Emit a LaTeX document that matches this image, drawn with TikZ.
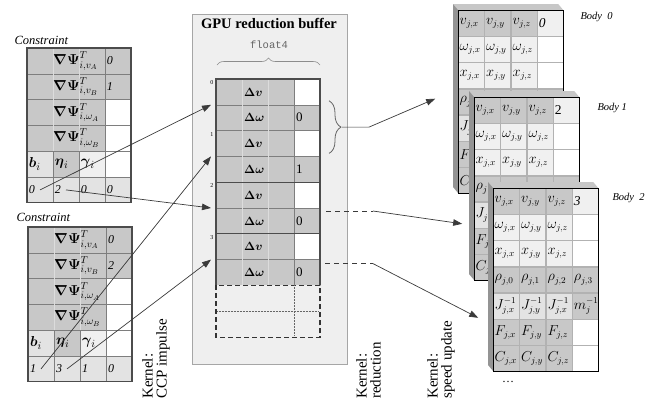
\documentclass[tikz,border=0pt]{standalone}
\usepackage{amsmath}
\usepackage{fontspec}
\setmainfont{Liberation Serif}
\setmonofont{Liberation Mono}
\usepackage{tikz}
\usetikzlibrary{matrix, arrows.meta, calc, decorations.pathreplacing}

\definecolor{cellgray}{HTML}{C8C8C8}
\definecolor{celllight}{HTML}{E3E3E3}
\definecolor{cellpale}{HTML}{F0F0F0}
\definecolor{rulegray}{HTML}{7E7E7E}
\definecolor{seamgray}{HTML}{DCDCDC}
\definecolor{arrowgray}{HTML}{3A3A3A}
\definecolor{panelgray}{HTML}{EFEFEF}

\begin{document}
\begin{tikzpicture}[x=1pt, y=-1pt,
  tab/.style={matrix of nodes, nodes in empty cells, anchor=north west,
    inner sep=0pt, outer sep=0pt, column sep=0pt, row sep=0pt,
    nodes={anchor=center, draw=none, fill=white, inner xsep=2pt, inner ysep=0pt,
      outer sep=0pt, text width=22pt, minimum height=25.8pt, align=left,
      font=\fontsize{12}{12}\selectfont}},
  card/.style={tab, nodes={draw=rulegray!60, inner xsep=1.5pt, text width=23pt,
      font=\fontsize{13.5}{14}\selectfont}},
  cg/.style={fill=cellgray}, cl/.style={fill=celllight}, cp/.style={fill=cellpale},
  cbig/.style={font=\fontsize{15}{15}\selectfont},
  tabframe/.style={line width=1.2pt, black!70},
  seam/.style={seamgray, line width=0.6pt},
  arr/.style={arrowgray, line width=0.7pt, -{Triangle[length=9pt,width=6.5pt]}},
  dline/.style={arrowgray, line width=1pt, dash pattern=on 5pt off 4pt},
  kernel/.style={rotate=90, anchor=north west, align=left, inner sep=0pt,
    font=\fontsize{15}{14}\selectfont},
  grad/.style={anchor=west, inner sep=0pt, font=\fontsize{14.5}{14}\selectfont},
  bodylabel/.style={anchor=west, font=\itshape\fontsize{10.5}{12}\selectfont}]
\useasboundingbox (0,0) rectangle (661,400);

% GPU reduction buffer panel
\node[draw=black!35, fill=panelgray, line width=0.8pt, inner sep=0pt, anchor=north west,
  minimum width=155pt, minimum height=350pt] (bufpanel) at (192,14) {};
\node[font=\bfseries\fontsize{14.5}{15}\selectfont] (buftitle) at (269,23) {GPU reduction buffer};
\node[font=\ttfamily\fontsize{10.5}{11}\selectfont, text=black!60] (buftype) at (269,45) {float4};

% constraints
\node[anchor=west, font=\itshape\fontsize{12.5}{13}\selectfont] (con1) at (11,40) {Constraint};
\matrix (c1) [tab] at (27,48) {
|[cg]| & |[cg]| & |[cg]| & |[cg]| \textit{0} \\
|[cg]| & |[cg]| & |[cg]| & |[cg]| \textit{1} \\
|[cg]| & |[cg]| & |[cg]| & \\
|[cg]| & |[cg]| & |[cg]| & \\
|[cl,cbig]| $\boldsymbol{b}_i$ & |[cg,cbig]| $\boldsymbol{\eta}_i$ & |[cp,cbig]| $\boldsymbol{\gamma}_i$ & \\
|[cl]| \textit{0} & |[cl]| \textit{2} & |[cl]| \textit{0} & |[cl]| \textit{0} \\
};

\node[anchor=west, font=\itshape\fontsize{12.5}{13}\selectfont] (con2) at (13,217) {Constraint};
\matrix (c2) [tab] at (28,227) {
|[cg]| & |[cg]| & |[cg]| & |[cg]| \textit{0} \\
|[cg]| & |[cg]| & |[cg]| & |[cg]| \textit{2} \\
|[cg]| & |[cg]| & |[cg]| & \\
|[cg]| & |[cg]| & |[cg]| & \\
|[cl,cbig]| $\boldsymbol{b}_i$ & |[cg,cbig]| $\boldsymbol{\eta}_i$ & |[cp,cbig]| $\boldsymbol{\gamma}_i$ & \\
|[cl]| \textit{1} & |[cl]| \textit{3} & |[cl]| \textit{1} & |[cl]| \textit{0} \\
};

\foreach \t in {c1,c2} {
  \foreach \r in {1,...,5}
    \draw[rulegray] (\t-\r-1.south west) -- (\t-\r-4.south east);
  \draw[seam] (\t-1-2.north west) -- (\t-4-2.south west) (\t-1-3.north west) -- (\t-4-3.south west);
  \draw[rulegray] (\t-5-2.north west) -- (\t-6-2.south west) (\t-5-3.north west) -- (\t-6-3.south west)
    (\t-1-4.north west) -- (\t-6-4.south west);
  \draw[tabframe] (\t-1-1.north west) rectangle (\t-6-4.south east);
  \node[grad] (\t-g1) at (\t-1-2.west) {$\boldsymbol{\nabla\Psi}^{T}_{i,v_A}$};
  \node[grad] (\t-g2) at (\t-2-2.west) {$\boldsymbol{\nabla\Psi}^{T}_{i,v_B}$};
  \node[grad] (\t-g3) at (\t-3-2.west) {$\boldsymbol{\nabla\Psi}^{T}_{i,\omega_A}$};
  \node[grad] (\t-g4) at (\t-4-2.west) {$\boldsymbol{\nabla\Psi}^{T}_{i,\omega_B}$};
}

% buffer
\matrix (buf) [tab, nodes={font=\fontsize{13}{13}\selectfont}] at (216,79) {
|[cg]| & |[cg]| $\boldsymbol{\Delta v}$ & |[cg]| & \\
|[cg]| & |[cg]| $\boldsymbol{\Delta\omega}$ & |[cg]| & |[cg]| 0 \\
|[cg]| & |[cg]| $\boldsymbol{\Delta v}$ & |[cg]| & \\
|[cg]| & |[cg]| $\boldsymbol{\Delta\omega}$ & |[cg]| & |[cg]| 1 \\
|[cg]| & |[cg]| $\boldsymbol{\Delta v}$ & |[cg]| & \\
|[cg]| & |[cg]| $\boldsymbol{\Delta\omega}$ & |[cg]| & |[cg]| 0 \\
|[cg]| & |[cg]| $\boldsymbol{\Delta v}$ & |[cg]| & \\
|[cg]| & |[cg]| $\boldsymbol{\Delta\omega}$ & |[cg]| & |[cg]| 0 \\
};
\foreach \r in {1,2,3,5,7}
  \draw[rulegray] (buf-\r-1.south west) -- (buf-\r-4.south east);
\draw[seam] (buf-1-2.north west) -- (buf-8-2.south west) (buf-1-3.north west) -- (buf-8-3.south west);
\draw[rulegray] (buf-1-4.north west) -- (buf-8-4.south west);
\draw[tabframe] (buf-4-1.south west) -- (buf-4-4.south east) (buf-6-1.south west) -- (buf-6-4.south east);
\draw[tabframe] (buf-8-1.south west) -- (buf-1-1.north west) -- (buf-1-4.north east) -- (buf-8-4.south east);
\draw[black!80, line width=1.2pt, dash pattern=on 5pt off 3pt]
  (buf-8-1.south west) rectangle ($(buf-8-4.south east)+(0,52)$);
\draw[black!60, densely dotted, line width=0.5pt] ($(buf-8-1.south west)+(1,26)$) -- ($(buf-8-4.south east)+(-1,26)$)
  (buf-8-4.south west) -- ($(buf-8-4.south west)+(0,51)$);
\foreach \r/\n in {1/0,3/1,5/2,7/3}
  \node[anchor=north east, inner sep=0.5pt, font=\fontsize{6}{6}\selectfont] (slotno\n)
    at ($(buf-\r-1.north west)+(-2,1)$) {\n};
\draw[decorate, decoration={brace, amplitude=7pt}, black!45, line width=0.6pt]
  ($(buf-1-1.north west)+(1,-14)$) -- ($(buf-1-4.north east)+(0,-14)$);

\coordinate (slot0) at ($(buf-1-1.south west)+(-5,0)$);
\coordinate (slot1) at ($(buf-3-1.south west)+(-5,0)$);
\coordinate (slot2) at ($(buf-5-1.south west)+(-5,0)$);
\coordinate (slot3) at ($(buf-7-1.south west)+(-5,0)$);
\draw[arr] (c1-6-1.center) -- (slot0);
\draw[arr] (c1-6-2.center) -- (slot2);
\draw[arr] (c2-6-1.center) -- (slot1);
\draw[arr] (c2-6-2.center) -- (slot3);

% bodies (cells hidden behind the next body are left empty)
\matrix (b0) [card] at (458,10) {
|[cg]| $v_{j,x}$ & |[cg]| $v_{j,y}$ & |[cg]| $v_{j,z}$ & |[cp]| \textit{0} \\
|[cp]| $\omega_{j,x}$ & |[cp]| $\omega_{j,y}$ & |[cp]| $\omega_{j,z}$ & \\
|[cp]| $x_{j,x}$ & |[cp]| $x_{j,y}$ & |[cp]| $x_{j,z}$ & \\
|[cg]| $\rho_{j}$ & |[cg]| & |[cg]| & |[cg]| \\
|[cl]| $J_{j}$ & |[cl]| & |[cl]| & |[cg]| \\
|[cg]| $F$ & |[cg]| & |[cg]| & \\
|[cg]| $C$ & |[cg]| & |[cg]| & \\
};
\fill[black!22] ($(b0-1-1.north west)+(-5,-6)$) -- ($(b0-1-4.north east)+(-5,-6)$) -- (b0-1-4.north east) -- (b0-1-1.north west) -- cycle;
\fill[black!42] ($(b0-1-1.north west)+(-5,-6)$) -- (b0-1-1.north west) -- (b0-7-1.south west) -- ($(b0-7-1.south west)+(-5,-6)$) -- cycle;
\draw[line width=1.3pt] (b0-1-1.north west) rectangle (b0-7-4.south east);
\node[bodylabel] (body0) at (577,17) {Body\ \ 0};

\matrix (b1) [card] at (474,97) {
|[cg]| $v_{j,x}$ & |[cg]| $v_{j,y}$ & |[cg]| $v_{j,z}$ & |[cp]| 2 \\
|[cp]| $\omega_{j,x}$ & |[cp]| $\omega_{j,y}$ & |[cp]| $\omega_{j,z}$ & \\
|[cp]| $x_{j,x}$ & |[cp]| $x_{j,y}$ & |[cp]| $x_{j,z}$ & \\
|[cg]| $\rho_{j}$ & |[cg]| & |[cg]| & |[cg]| \\
|[cl]| $J_{j}$ & |[cl]| & |[cl]| & |[cg]| \\
|[cg]| $F_{j}$ & |[cg]| & |[cg]| & \\
|[cg]| $C_{j}$ & |[cg]| & |[cg]| & \\
};
\fill[black!22] ($(b1-1-1.north west)+(-5,-6)$) -- ($(b1-1-4.north east)+(-5,-6)$) -- (b1-1-4.north east) -- (b1-1-1.north west) -- cycle;
\fill[black!42] ($(b1-1-1.north west)+(-5,-6)$) -- (b1-1-1.north west) -- (b1-7-1.south west) -- ($(b1-7-1.south west)+(-5,-6)$) -- cycle;
\draw[line width=1.3pt] (b1-1-1.north west) rectangle (b1-7-4.south east);
\node[bodylabel] (body1) at (594,108) {Body 1};

\matrix (b2) [card] at (493,188) {
|[cg]| $v_{j,x}$ & |[cg]| $v_{j,y}$ & |[cg]| $v_{j,z}$ & |[cp]| \textit{3} \\
|[cp]| $\omega_{j,x}$ & |[cp]| $\omega_{j,y}$ & |[cp]| $\omega_{j,z}$ & \\
|[cp]| $x_{j,x}$ & |[cp]| $x_{j,y}$ & |[cp]| $x_{j,z}$ & \\
|[cg]| $\rho_{j,0}$ & |[cg]| $\rho_{j,1}$ & |[cg]| $\rho_{j,2}$ & |[cg]| $\rho_{j,3}$ \\
|[cl]| $J_{j,x}^{-1}$ & |[cl]| $J_{j,y}^{-1}$ & |[cl]| $J_{j,x}^{-1}$ & |[cg]| $m_j^{-1}$ \\
|[cg]| $F_{j,x}$ & |[cg]| $F_{j,y}$ & |[cg]| $F_{j,z}$ & \\
|[cg]| $C_{j,x}$ & |[cg]| $C_{j,y}$ & |[cg]| $C_{j,z}$ & \\
};
\fill[black!22] ($(b2-1-1.north west)+(-5,-6)$) -- ($(b2-1-4.north east)+(-5,-6)$) -- (b2-1-4.north east) -- (b2-1-1.north west) -- cycle;
\fill[black!42] ($(b2-1-1.north west)+(-5,-6)$) -- (b2-1-1.north west) -- (b2-7-1.south west) -- ($(b2-7-1.south west)+(-5,-6)$) -- cycle;
\draw[line width=1.3pt] (b2-1-1.north west) rectangle (b2-7-4.south east);
\node[bodylabel] (body2) at (609,198) {Body\ \ 2};
\node[font=\fontsize{12}{12}\selectfont] (more) at (508,382) {\dots};

% reduction: buffer -> bodies
\coordinate (brA) at ($(buf-2-4.north east)+(9,-4)$);
\coordinate (brB) at ($(buf-3-4.south east)+(9,-3)$);
\draw[decorate, decoration={brace, amplitude=12pt}, black!60, line width=0.8pt] (brA) -- (brB);
\coordinate (brtip) at ($(brA)!0.5!(brB)+(13,0)$);
\coordinate (in0) at ($(b0-4-1.west)+(-23,-3)$);
\coordinate (in1) at ($(b1-5-1.south west)+(-12,-4)$);
\coordinate (in2) at ($(b2-5-1.south west)+(-15,-1)$);
\draw[arr] (brtip) -- ++(27,0) -- (in0);
\draw[dline] ($(buf-6-4.north east)+(6,3)$) -- ++(47,0) coordinate (k1);
\draw[arr] (k1) -- (in1);
\draw[dline] ($(buf-8-4.north east)+(5,4)$) -- ++(48,0) coordinate (k2);
\draw[arr] (k2) -- (in2);

% kernels
\node[kernel] (kccp) at (142,399) {Kernel:\\CCP impulse};
\node[kernel] (kred) at (356,399) {Kernel:\\reduction};
\node[kernel] (kspeed) at (427,399) {Kernel:\\speed update};
\end{tikzpicture}
\end{document}
